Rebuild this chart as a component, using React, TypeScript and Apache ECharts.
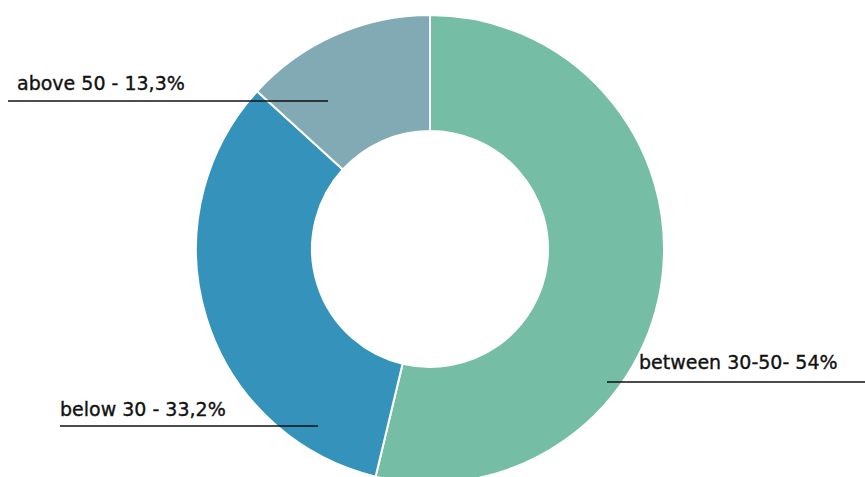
import React, { useEffect, useRef } from "react";
import * as echarts from "echarts";

const categories = ["between 30-50", "below 30", "above 50"];
const values = [54, 33.2, 13.3];
const labelTexts = ["between 30-50- 54%", "below 30 - 33,2%", "above 50 - 13,3%"];
const colors = ["#76bda6", "#3593bb", "#82aab5"];

// label placement (text left x, text middle y, underline from x1 to x2 at y)
const labelPlacement = [
  { x: 639, y: 362, lx1: 607, lx2: 865, ly: 382 },
  { x: 60, y: 409, lx1: 60, lx2: 318, ly: 426 },
  { x: 17, y: 83, lx1: 8, lx2: 328, ly: 101 },
];

export default function App() {
  const ref = useRef<HTMLDivElement>(null);
  useEffect(() => {
    document.body.style.margin = "0";
    const chart = echarts.init(ref.current!, null, { renderer: "svg" });
    const base = {
      type: "pie",
      center: [430, 249],
      radius: [118, 234],
      startAngle: 90,
      clockwise: true,
      emphasis: { disabled: true },
      silent: true,
    };
    chart.setOption({
      animation: false,
      backgroundColor: "#ffffff",
      series: [
        {
          ...base,
          z: 2,
          itemStyle: { borderColor: "#ffffff", borderWidth: 2 },
          data: categories.map((c, i) => ({
            name: c,
            value: values[i],
            itemStyle: { color: colors[i] },
          })),
          label: { show: false },
          labelLine: { show: false },
        },
        {
          ...base,
          z: 5,
          itemStyle: { color: "rgba(0,0,0,0)", borderWidth: 0 },
          data: categories.map((c, i) => ({ name: c, value: values[i] })),
          label: {
            show: true,
            position: "outside",
            overflow: "none",
            formatter: (p: any) => labelTexts[p.dataIndex],
            fontFamily: "'DejaVu Sans', sans-serif",
            fontSize: 19,
            color: "#111111",
            textBorderColor: "#111111",
            textBorderWidth: 0.35,
          },
          labelLine: {
            show: true,
            lineStyle: { color: "#111111", width: 1.6 },
          },
          labelLayout: (params: any) => {
            const pl = labelPlacement[params.dataIndex];
            return {
              x: pl.x,
              y: pl.y,
              align: "left",
              verticalAlign: "middle",
              labelLinePoints: [
                [pl.lx2, pl.ly],
                [pl.lx1, pl.ly],
                [pl.lx1, pl.ly],
              ],
            };
          },
        },
      ],
    });
    return () => chart.dispose();
  }, []);
  return <div ref={ref} style={{ width: 865, height: 477 }} />;
}
